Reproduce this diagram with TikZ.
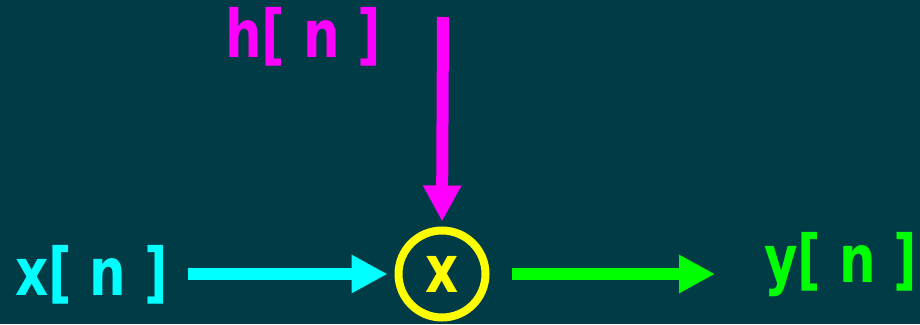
\documentclass[tikz,border=0pt]{standalone}
\usepackage{fontspec}
\setmainfont[FakeStretch=0.78]{DejaVu Sans}
\usetikzlibrary{arrows.meta}
\definecolor{bg}{HTML}{003B46}
\definecolor{sigcyan}{HTML}{00FFFF}
\definecolor{sigmagenta}{HTML}{FF00FF}
\definecolor{sigyellow}{HTML}{FFFF00}
\definecolor{siggreen}{HTML}{00FF00}
\tikzset{
  signal/.style={inner sep=0pt, anchor=base west, font=\fontsize{66}{70}\selectfont\bfseries},
  flow/.style={line width=12pt, -{Triangle[length=36pt,width=36pt]}},
  mixer/.style={circle, draw=sigyellow, line width=8pt, minimum size=87pt, inner sep=0pt,
    text=sigyellow, font=\fontsize{66}{70}\selectfont\bfseries}
}
\begin{document}
\begin{tikzpicture}[x=1pt,y=-1pt]
  \fill[bg] (0,0) rectangle (920,324);
  \useasboundingbox (0,0) rectangle (920,324);
  % signals
  \node[signal, text=sigcyan] (xn) at (15,295) {x[ n ]};
  \node[signal, text=sigmagenta] (hn) at (225,57) {h[ n ]};
  \node[signal, text=siggreen] (yn) at (764,282) {y[ n ]};
  % multiplier
  \node[mixer] (mult) at (442,274) {x};
  \coordinate (htop) at (443,17);
  % connectors
  \draw[flow, draw=sigcyan, fill=sigcyan, shorten <=20pt, shorten >=7pt]
    (xn.east |- mult.west) -- (mult.west);
  \draw[flow, draw=sigmagenta, fill=sigmagenta, shorten >=5pt]
    (htop) -- (mult.north);
  \draw[flow, draw=siggreen, fill=siggreen, shorten <=22pt, shorten >=49pt]
    (mult.east) -- (yn.west |- mult.east);
\end{tikzpicture}
\end{document}
